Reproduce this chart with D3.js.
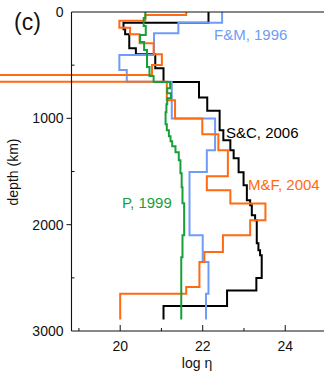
<!DOCTYPE html>
<html>
<head>
<meta charset="utf-8">
<script src="https://cdn.jsdelivr.net/npm/d3@7"></script>
<style>
  body { margin: 0; background: #fff; }
  svg { display: block; }
  text { font-family: "Liberation Sans", Arial, Helvetica, sans-serif; }
</style>
</head>
<body>
<svg id="chart" width="324" height="372"></svg>
<script>
// Axis ticks
const xMajorTicks = [20, 22, 24];
const xMinorTicks = [19, 21, 23, 25];
const yMajorTicks = [0, 1000, 2000, 3000];
const yMinorTicks = [500, 1500, 2500];

// Layered viscosity profiles: layer i spans depth[i]..depth[i+1] with log10 viscosity eta[i]
// S&C, 2006
const scDepth = [0, 101, 163, 210, 342, 398, 530, 659, 803, 929, 1111, 1205, 1299, 1375, 1507, 1629, 1770, 1817, 1911, 1959, 2175, 2241, 2288, 2502, 2618, 2765, 2891];
const scEta   = [22.14, 20.08, 20.12, 20.22, 20.38, 20.85, 21.05, 21.91, 22.11, 22.41, 22.50, 22.67, 22.75, 22.87, 22.99, 23.07, 23.15, 23.19, 23.27, 23.31, 23.35, 23.39, 23.43, 23.30, 22.59, 21.05];

// F&M, 1996
const fmDepth = [0, 101, 201, 405, 546, 656, 1001, 1299, 1504, 2100, 2351, 2649, 2891];
const fmEta   = [22.47, 21.41, 20.82, 19.98, 20.16, 21.25, 22.30, 22.10, 21.68, 22.00, 22.14, 22.08];

// M&F, 2004
const mfDepth = [0, 28, 82, 148, 210, 295, 398, 499, 593, 656, 829, 1001, 1149, 1299, 1544, 1676, 1801, 1959, 2100, 2257, 2351, 2587, 2649, 2891];
const mfEta   = [21.60, 20.61, 19.98, 20.24, 20.47, 20.81, 21.01, 20.77, 17.00, 21.13, 21.33, 21.99, 22.38, 22.61, 22.10, 22.67, 23.52, 23.15, 22.49, 22.04, 21.92, 21.60, 20.00];

// P, 1999
const pDepth = [0, 57, 132, 217, 283, 358, 518, 603, 659, 716, 763, 810, 867, 942, 1055, 1111, 1168, 1215, 1262, 1318, 1394, 1516, 1648, 1799, 2100, 2307, 2891];
const pEta   = [20.61, 20.57, 20.62, 20.48, 20.58, 20.65, 20.71, 20.81, 21.21, 21.14, 21.23, 21.14, 21.12, 21.10, 21.13, 21.18, 21.22, 21.26, 21.34, 21.42, 21.46, 21.49, 21.51, 21.55, 21.51, 21.48];

const svg = d3.select("#chart");

const x = d3.scaleLinear().domain([18.82, 25]).range([71.5, 326.5]);
const y = d3.scaleLinear().domain([0, 3000]).range([12, 331]);

// Step outline for a layered profile
function steps(depth, eta) {
  const pts = [];
  eta.forEach((v, i) => {
    pts.push([v, depth[i]]);
    pts.push([v, depth[i + 1]]);
  });
  return pts;
}

const line = d3.line().x(d => x(d[0])).y(d => y(d[1]));

const models = [
  { depth: scDepth, eta: scEta, color: "#000000", label: "S&C, 2006", lx: 226, ly: 138 },
  { depth: fmDepth, eta: fmEta, color: "#6f9cf6", label: "F&M, 1996", lx: 214, ly: 40 },
  { depth: mfDepth, eta: mfEta, color: "#ff6a12", label: "M&F, 2004", lx: 248, ly: 190 },
  { depth: pDepth,  eta: pEta,  color: "#17a03a", label: "P, 1999",   lx: 122, ly: 208 }
];

models.forEach(m => {
  svg.append("path")
    .attr("d", line(steps(m.depth, m.eta)))
    .attr("fill", "none")
    .attr("stroke", m.color)
    .attr("stroke-width", 2)
    .attr("stroke-linejoin", "miter");
});

// Frame: left, top and bottom lines
const frame = svg.append("g").attr("stroke", "#111").attr("stroke-width", 1.1).attr("fill", "none");
frame.append("line").attr("x1", x.range()[0]).attr("x2", x.range()[0]).attr("y1", y(0)).attr("y2", y(3000));
frame.append("line").attr("x1", x.range()[0]).attr("x2", 330).attr("y1", y(0)).attr("y2", y(0));
frame.append("line").attr("x1", x.range()[0]).attr("x2", 330).attr("y1", y(3000)).attr("y2", y(3000));

// x ticks point up into the plot
const xAxis = svg.append("g");
xAxis.selectAll("line.maj").data(xMajorTicks).join("line")
  .attr("x1", d => x(d)).attr("x2", d => x(d))
  .attr("y1", y(3000)).attr("y2", y(3000) - 6)
  .attr("stroke", "#111").attr("stroke-width", 1);
xAxis.selectAll("line.min").data(xMinorTicks).join("line")
  .attr("x1", d => x(d)).attr("x2", d => x(d))
  .attr("y1", y(3000)).attr("y2", y(3000) - 3)
  .attr("stroke", "#111").attr("stroke-width", 1);
xAxis.selectAll("text").data(xMajorTicks).join("text")
  .attr("x", d => x(d)).attr("y", 350.5)
  .attr("text-anchor", "middle").attr("font-size", 14).attr("fill", "#111")
  .text(d => d);

// y ticks: major outward, minor inward
const yAxis = svg.append("g");
yAxis.selectAll("line.maj").data(yMajorTicks.filter(d => d > 0 && d < 3000)).join("line")
  .attr("x1", x.range()[0] - 5).attr("x2", x.range()[0])
  .attr("y1", d => y(d)).attr("y2", d => y(d))
  .attr("stroke", "#111").attr("stroke-width", 1);
yAxis.selectAll("line.min").data(yMinorTicks).join("line")
  .attr("x1", x.range()[0]).attr("x2", x.range()[0] + 3)
  .attr("y1", d => y(d)).attr("y2", d => y(d))
  .attr("stroke", "#111").attr("stroke-width", 1);
yAxis.selectAll("text").data(yMajorTicks).join("text")
  .attr("x", 63.5).attr("y", d => y(d))
  .attr("dy", "0.35em")
  .attr("text-anchor", "end").attr("font-size", 14).attr("fill", "#111")
  .text(d => d);

// Axis titles
svg.append("text")
  .attr("x", 197).attr("y", 368)
  .attr("text-anchor", "middle").attr("font-size", 14).attr("fill", "#111")
  .text("log η");
svg.append("text")
  .attr("transform", "translate(17.5,172) rotate(-90)")
  .attr("text-anchor", "middle").attr("font-size", 14).attr("fill", "#111")
  .text("depth (km)");

// Panel letter
svg.append("text")
  .attr("x", 14).attr("y", 30)
  .attr("font-size", 23).attr("fill", "#111")
  .text("(c)");

// Model labels
models.forEach(m => {
  svg.append("text")
    .attr("x", m.lx).attr("y", m.ly)
    .attr("font-size", 15).attr("fill", m.color)
    .text(m.label);
});
</script>
</body>
</html>
